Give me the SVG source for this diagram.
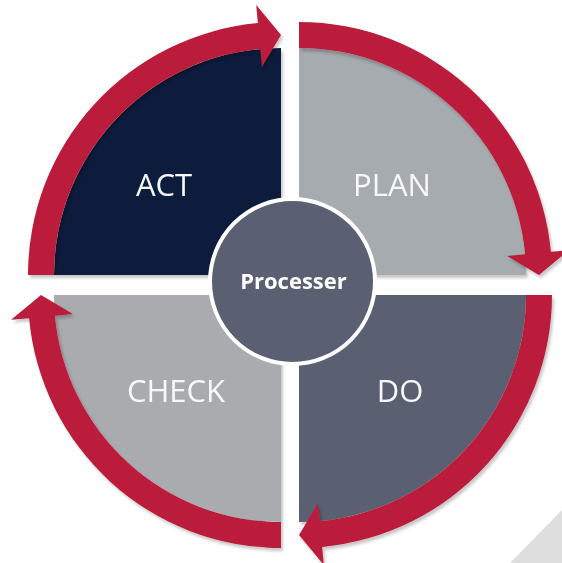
<svg xmlns="http://www.w3.org/2000/svg" xmlns:xlink="http://www.w3.org/1999/xlink" width="562" height="563" viewBox="0 0 562 563">
  <style>
    .lbl { font-family: "Open Sans", "Liberation Sans", sans-serif; font-size: 31px; fill: #f7f8fa; text-anchor: middle; }
    .ctr { font-family: "Open Sans", "Liberation Sans", sans-serif; font-size: 22px; font-weight: bold; fill: #ffffff; text-anchor: middle; }
    .band { fill: #bb1e3b; }
  </style>
  <defs>
    <filter id="sh" x="-10%" y="-10%" width="130%" height="130%">
      <feDropShadow dx="2" dy="3" stdDeviation="1.5" flood-color="#000000" flood-opacity="0.22"/>
    </filter>
    <path id="sector" d="M0,0 L-227,0 A227,227 0 0 1 0,-227 Z"/>
    <path id="arrow" d="M-253,0 A253,253 0 0 1 -23.15,-251.9 L-24.8,-269.9 L0,-240 L-19.1,-208.1 L-20.77,-226.05 A227,227 0 0 0 -227,0 Z"/>
  </defs>
  <rect width="562" height="563" fill="#ffffff"/>
  <polygon points="510,563 562,510 562,563" fill="#dedede"/>

  <g id="act" filter="url(#sh)">
    <use xlink:href="#sector" href="#sector" transform="translate(281,275)" fill="#0c1f3d"/>
    <text class="lbl" x="164" y="196">ACT</text>
  </g>
  <g id="plan" filter="url(#sh)">
    <use xlink:href="#sector" href="#sector" transform="translate(299,275) rotate(90)" fill="#a5abaf"/>
    <text class="lbl" x="392" y="196">PLAN</text>
  </g>
  <g id="do" filter="url(#sh)">
    <use xlink:href="#sector" href="#sector" transform="translate(299,295) rotate(180)" fill="#5a6072"/>
    <text class="lbl" x="400" y="402">DO</text>
  </g>
  <g id="check" filter="url(#sh)">
    <use xlink:href="#sector" href="#sector" transform="translate(281,295) rotate(270)" fill="#a9abae"/>
    <text class="lbl" x="176" y="402">CHECK</text>
  </g>

  <g id="connectors" filter="url(#sh)">
    <use class="band" xlink:href="#arrow" href="#arrow" transform="translate(281,275)"/>
    <use class="band" xlink:href="#arrow" href="#arrow" transform="translate(299,275) rotate(90)"/>
    <use class="band" xlink:href="#arrow" href="#arrow" transform="translate(299,295) rotate(180)"/>
    <use class="band" xlink:href="#arrow" href="#arrow" transform="translate(281,295) rotate(270)"/>
  </g>

  <g id="processer">
    <circle cx="292.5" cy="281.5" r="82.5" fill="#5a6072" stroke="#ffffff" stroke-width="4"/>
    <text class="ctr" x="293.5" y="289">Processer</text>
  </g>
</svg>
